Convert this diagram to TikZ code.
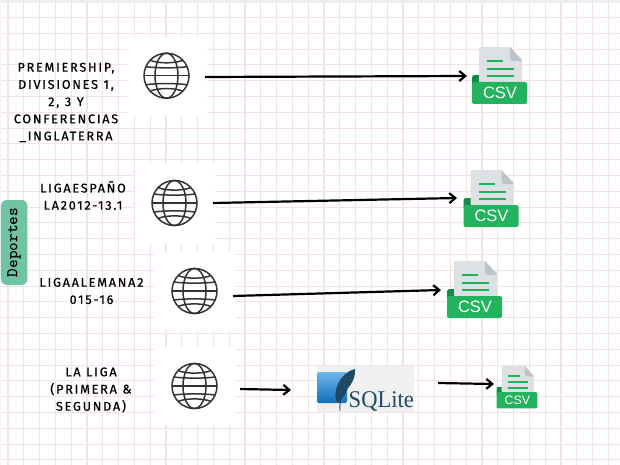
\documentclass[tikz,border=0pt]{standalone}
\usepackage{fontspec}
\setmainfont{Lato}
\newfontfamily\labfont[LetterSpace=14,WordSpace=1.1,FakeBold=0.6]{Fira Sans}
\newfontfamily\sqlfont{Liberation Serif}
\newfontfamily\csvfont{Liberation Sans}
\usetikzlibrary{arrows.meta,shadings}
\definecolor{gridpink}{HTML}{F3E3E2}
\definecolor{depgreen}{HTML}{6FC5A3}
\definecolor{globeink}{HTML}{333333}
\definecolor{csvgreen}{HTML}{23B35F}
\definecolor{csvdark}{HTML}{128A48}
\definecolor{csvpaper}{HTML}{DDE1E4}
\definecolor{csvfold}{HTML}{BCC4CB}
\definecolor{sqlback}{HTML}{F0F0F0}
\definecolor{sqlink}{HTML}{1F4A66}
\definecolor{sqllight}{HTML}{6FB6EA}
\definecolor{sqldeep}{HTML}{0F6FBD}
\tikzset{
  x=1pt,y=-1pt,
  labeltext/.style={font=\labfont\fontsize{12.6}{17.2}\selectfont,align=center,text=black,inner sep=0pt},
  link/.style={draw=black,line width=2.2pt,-{Straight Barb[length=6pt,width=10pt,line width=2.2pt]}},
  globeline/.style={draw=globeink,line width=1.5pt},
  patch/.style={fill=white,draw=none},
  anchorpt/.style={inner sep=0pt,minimum size=0pt},
  gridline/.style={draw=gridpink,line width=1.1pt},
}
\newcommand{\globeicon}[3]{%
  \begin{scope}[shift={(#1,#2)}]
    \node[anchorpt] (#3) at (0,0) {};
    \draw[globeline] (0,0) circle[radius=22.5];
    \draw[globeline] (0,0) ellipse[x radius=11.5,y radius=22.5];
    \draw[globeline] (-22.5,0) -- (22.5,0);
    \draw[globeline] (-20.5,-9) .. controls (-10,-7.5) and (10,-7.5) .. (20.5,-9);
    \draw[globeline] (-20.5,9) .. controls (-10,7.5) and (10,7.5) .. (20.5,9);
    \draw[globeline] (-16.5,-15.5) .. controls (-9,-12) and (9,-12) .. (16.5,-15.5);
    \draw[globeline] (-16.5,15.5) .. controls (-9,12) and (9,12) .. (16.5,15.5);
  \end{scope}}
% #1,#2 = left/top of the icon, #3 = scale, #4 = name
\newcommand{\csvicon}[4]{%
  \begin{scope}[shift={(#1,#2)},scale=#3]
    \fill[csvdark] (0,31) .. controls (0,28.5) and (1,28) .. (3,28) -- (8,28) -- (8,38) -- (0,38) -- cycle;
    \fill[csvpaper] (9,0) -- (38,0) -- (50,12) -- (50,38) -- (7,38) -- (7,2) .. controls (7,1) and (8,0) .. (9,0) -- cycle;
    \fill[csvfold] (38,0) -- (50,14) -- (41,14) .. controls (39,14) and (38,13) .. (38,11) -- cycle;
    \draw[csvgreen,line width=1.9pt] (15,14) -- (31,14) (15,22) -- (42,22) (15,29) -- (42,29);
    \fill[csvgreen,rounded corners=2pt] (0,35) -- (55,35) -- (55,57) -- (0,57) -- cycle;
    \node[anchorpt,text=white,font=\csvfont\fontsize{16.5}{16.5}\selectfont] (#4) at (28,46) {\scalebox{#3}{CSV}};
  \end{scope}}
\begin{document}
\begin{tikzpicture}
\useasboundingbox (0,0) rectangle (620,465);
\fill[white] (0,0) rectangle (620,465);
\fill[black!7] (0,0) rectangle (620,3);
\fill[blue!6] (0,0) rectangle (1,465);
% grid
\foreach \k in {0,...,38} \draw[gridline] ({8+15.8*\k},3) -- ({8+15.8*\k},465);
\foreach \k in {0,...,28} \draw[gridline] (1,{17.5+15.8*\k}) -- (620,{17.5+15.8*\k});
% white patches behind the globes
\fill[patch] (127,37) rectangle (207,115);
\fill[patch] (135,163) rectangle (215,243);
\fill[patch] (155,252) rectangle (235,330);
\fill[patch] (155,347) rectangle (235,425);
% left tag
\node[fill=depgreen,rounded corners=6pt,minimum width=85pt,minimum height=26.5pt,inner sep=0pt,rotate=90,
  font=\ttfamily\fontsize{16.5}{16.5}\selectfont\bfseries,text=black] (deportes) at (14.2,242.5) {Deportes};
% globes
\globeicon{166.5}{75.7}{g1}
\globeicon{174.5}{203}{g2}
\globeicon{194.5}{291}{g3}
\globeicon{194.5}{386}{g4}
% labels
\node[labeltext] (t1) at (66,102.5) {PREMIERSHIP,\\DIVISIONES 1,\\2, 3 Y\\CONFERENCIAS\\\_INGLATERRA};
\node[labeltext] (t2) at (83,195.5) {LIGAESPAÑO\\LA2012-13.1};
\node[labeltext] (t3) at (91.5,291) {LIGAALEMANA2\\015-16};
\node[labeltext] (t4) at (91,390) {LA LIGA\\(PRIMERA \&\\SEGUNDA)};
% CSV icons
\csvicon{472}{47}{1}{c1}
\csvicon{463.5}{170}{1}{c2}
\csvicon{447}{261}{1}{c3}
\csvicon{496.5}{366}{0.745}{c4}
% SQLite logo
\fill[sqlback] (317,366) rectangle (414,412);
\shade[top color=sqllight,bottom color=sqldeep,rounded corners=2pt] (317,372) rectangle (347,403);
\fill[sqlink] (355,369) .. controls (346,371) and (338,380) .. (336,390) .. controls (335,396) and (335,400) .. (338,403) .. controls (343,398) and (346,394) .. (348,388) .. controls (352,384) and (356,376) .. (355,369) -- cycle;
\draw[sqlink,line width=0.9pt] (349,376) .. controls (344,385) and (339,398) .. (340,411);
\node[anchor=base west,inner sep=0pt,text=sqlink,font=\sqlfont\fontsize{24}{24}\selectfont] (sql) at (348.5,407.5) {\scalebox{0.94}[1]{SQLite}};
\coordinate (a1s) at (205,77);
\coordinate (a2s) at (213,203);
\coordinate (a3s) at (233,296);
\coordinate (a4s) at (240,389);
\coordinate (a5s) at (438,383);
\coordinate (a1e) at (467,76);
\coordinate (a2e) at (457,198);
\coordinate (a3e) at (441,290);
\coordinate (a4e) at (291,390);
\coordinate (a5e) at (494,384);
% arrows
\draw[link] (a1s) -- (a1e);
\draw[link] (a2s) -- (a2e);
\draw[link] (a3s) -- (a3e);
\draw[link] (a4s) -- (a4e);
\draw[link] (a5s) -- (a5e);
\end{tikzpicture}
\end{document}
